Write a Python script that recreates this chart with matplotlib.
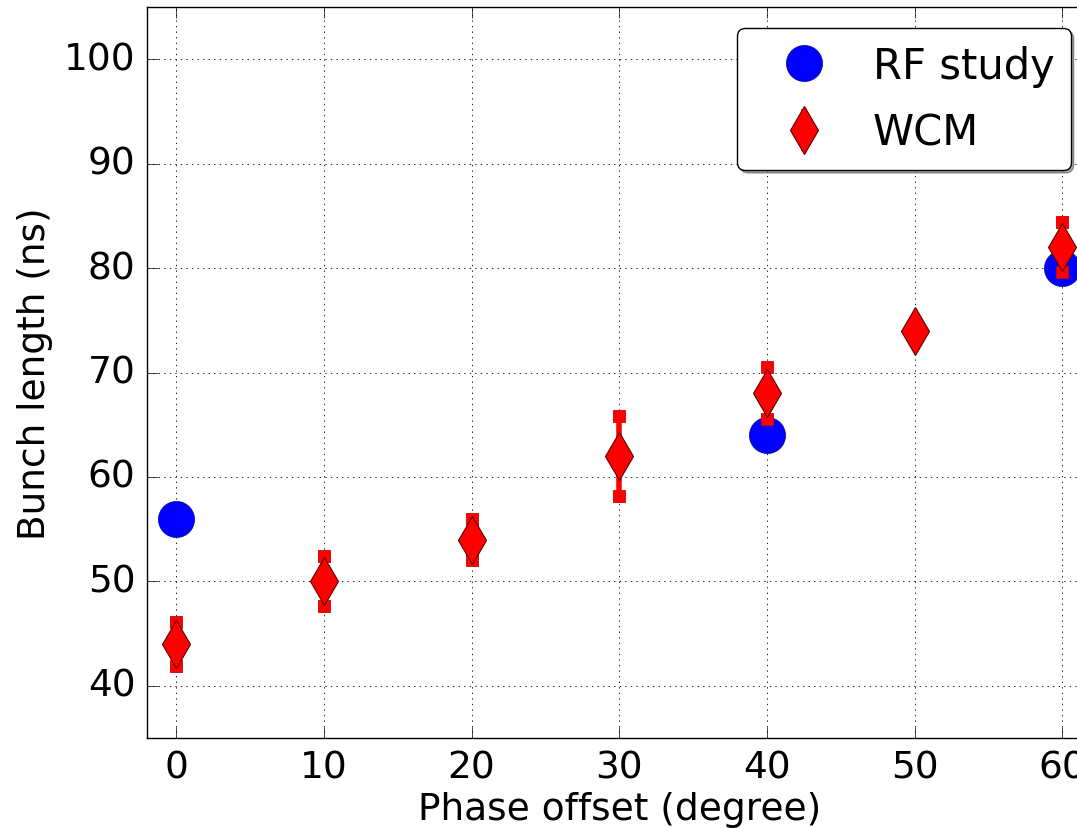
import matplotlib
matplotlib.use("Agg")
import matplotlib.pyplot as plt
import numpy as np

plt.style.use("classic")
plt.rcParams['font.family'] = ['DejaVu Sans']

rf_phase = [0, 40, 60]
rf_length = [56, 64, 80]

wcm_phase = [0, 10, 20, 30, 40, 50, 60]
wcm_length = [44, 50, 54, 62, 68, 74, 82]
wcm_err = [2.1, 2.4, 2.0, 3.8, 2.5, 0.0, 2.4]

fig = plt.figure(figsize=(10.77, 8.29), dpi=100)
ax = fig.add_axes([0.1362, 0.1086, 1.0137 - 0.1362, 0.9903 - 0.1086])

ax.plot(rf_phase, rf_length, linestyle='none', marker='o', markersize=26,
        color='blue', markeredgecolor='#00008b', markeredgewidth=0.5,
        label='RF study', zorder=3)

ph = np.array(wcm_phase, dtype=float)
ln = np.array(wcm_length, dtype=float)
er = np.array(wcm_err, dtype=float)
has = er > 0
ax.errorbar(ph, ln, yerr=er, fmt='d', markersize=24,
            color='red', markerfacecolor='red', markeredgecolor='#5a0000',
            markeredgewidth=0.8, ecolor='red', elinewidth=4,
            capsize=0, label='WCM', zorder=4)
for sign in (-1, 1):
    ax.plot(ph[has], ln[has] + sign * er[has], linestyle='none', marker='s',
            markersize=8.5, markerfacecolor='red', markeredgecolor='#d00000',
            markeredgewidth=0.6, zorder=3.5)

ax.set_xlim(-2, 62)
ax.set_ylim(35, 105)
ax.set_xticks([0, 10, 20, 30, 40, 50, 60])
ax.set_yticks([40, 50, 60, 70, 80, 90, 100])
ax.tick_params(labelsize=27, direction='in', length=8, pad=8)
ax.grid(True, linestyle=':', color='black', linewidth=0.6)
ax.set_xlabel('Phase offset (degree)', fontsize=27, labelpad=4)
ax.set_ylabel('Bunch length (ns)', fontsize=27, labelpad=8)

handles, labels = ax.get_legend_handles_labels()
leg = ax.legend(handles, labels, loc='upper right', numpoints=1, fontsize=30,
                fancybox=True, shadow=True, borderaxespad=0.5,
                handlelength=2.4, handletextpad=0.45, borderpad=0.4,
                labelspacing=0.6)

fig.savefig('out.png', dpi=100)
